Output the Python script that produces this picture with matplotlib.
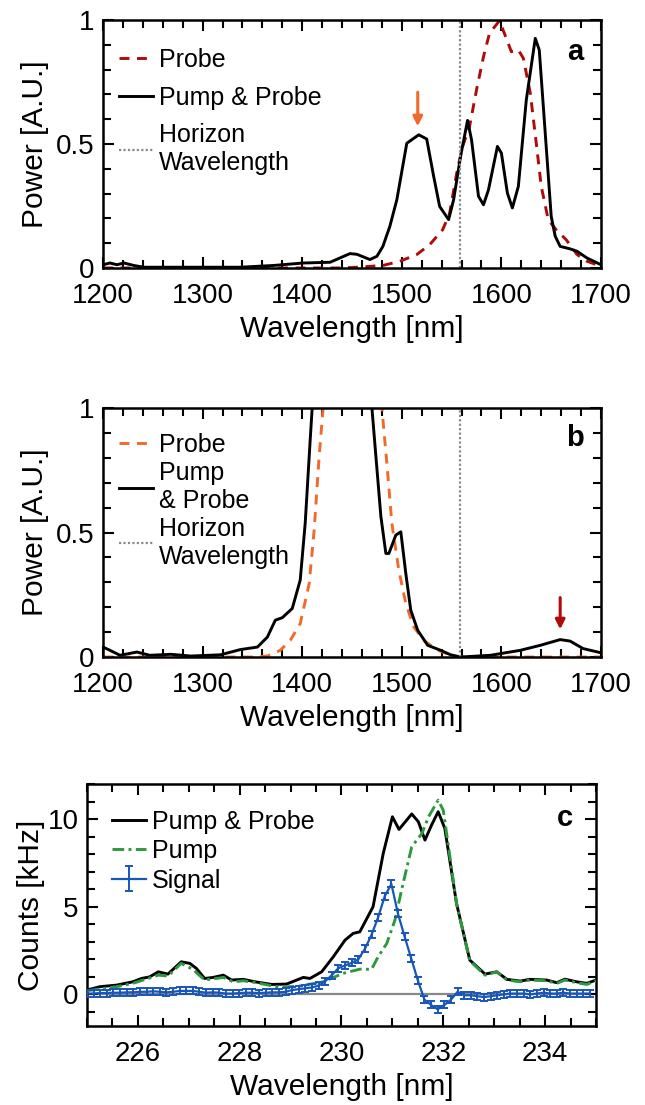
import numpy as np
import matplotlib
matplotlib.use("Agg")
import matplotlib.pyplot as plt
from matplotlib.ticker import MultipleLocator, FixedLocator

plt.rcParams['font.family'] = ['Liberation Sans', 'DejaVu Sans']

# ---------------- Panel a data ----------------
a_pp_x = [1200, 1207, 1214, 1221, 1231, 1241, 1288, 1338, 1371, 1401, 1428, 1448, 1455, 1468, 1475,
          1481, 1488, 1495, 1505, 1517, 1525, 1532, 1538, 1547, 1552, 1559, 1566, 1570, 1577, 1582,
          1587, 1596, 1600, 1606, 1611, 1617, 1625, 1634, 1638, 1644, 1650, 1654, 1659, 1669, 1676,
          1686, 1700]
a_pp_y = [0.013, 0.02, 0.013, 0.02, 0.01, 0.003, 0.003, 0.003, 0.01, 0.02, 0.023, 0.058, 0.055, 0.034, 0.047,
          0.087, 0.168, 0.275, 0.503, 0.537, 0.52, 0.369, 0.248, 0.195, 0.275, 0.45, 0.595, 0.517, 0.289, 0.255,
          0.315, 0.49, 0.463, 0.302, 0.242, 0.329, 0.678, 0.926, 0.879, 0.544, 0.208, 0.128, 0.087, 0.077, 0.067,
          0.04, 0.013]
a_pr_x = [1200, 1300, 1400, 1440, 1455, 1481, 1498, 1515, 1528, 1541, 1548, 1555, 1561, 1568, 1575,
          1582, 1588, 1598, 1603, 1610, 1617, 1622, 1629, 1635, 1640, 1647, 1655, 1665, 1676, 1686, 1700]
a_pr_y = [0.0, 0.0, 0.0, 0.0, 0.003, 0.01, 0.027, 0.054, 0.094, 0.154, 0.22, 0.38, 0.49, 0.57, 0.718,
          0.852, 0.946, 0.997, 0.946, 0.872, 0.879, 0.846, 0.705, 0.503, 0.329, 0.195, 0.154, 0.114, 0.054, 0.027, 0.007]

# ---------------- Panel b data ----------------
b_pp_x = [1200, 1207, 1217, 1234, 1247, 1268, 1288, 1318, 1338, 1355, 1365, 1373, 1380, 1390, 1398,
          1403, 1408, 1410, 1415, 1430, 1445, 1460, 1468, 1470, 1474, 1479, 1484, 1487, 1494, 1499,
          1504, 1509, 1516, 1526, 1539, 1549, 1559, 1589, 1619, 1639, 1659, 1669, 1682, 1700]
b_pp_y = [0.04, 0.027, 0.007, 0.02, 0.007, 0.011, 0.004, 0.009, 0.03, 0.04, 0.08, 0.148, 0.158, 0.195, 0.309,
          0.537, 0.872, 1.0, 2.0, 6.0, 9.0, 5.0, 1.5, 1.0, 0.805, 0.564, 0.416, 0.416, 0.49, 0.503,
          0.336, 0.188, 0.107, 0.047, 0.027, 0.009, 0.0, 0.007, 0.027, 0.047, 0.07, 0.064, 0.034, 0.017]
b_pr_x = [1200, 1300, 1350, 1365, 1378, 1388, 1398, 1407, 1412, 1417, 1421, 1430, 1450, 1470, 1480,
          1485, 1490, 1497, 1504, 1512, 1522, 1535, 1549, 1559, 1600, 1700]
b_pr_y = [0.0, 0.0, 0.0, 0.004, 0.027, 0.067, 0.134, 0.295, 0.51, 0.805, 1.0, 3.0, 8.0, 3.0, 1.0,
          0.778, 0.537, 0.349, 0.215, 0.121, 0.067, 0.03, 0.007, 0.0, 0.0, 0.0]

horizon_wl = 1558

# ---------------- Panel c data ----------------
c_pp_x = [225.0, 225.25, 225.58, 225.9, 226.07, 226.23, 226.4, 226.59, 226.85, 227.02, 227.15, 227.31,
          227.48, 227.68, 227.84, 228.07, 228.3, 228.63, 228.92, 229.25, 229.38, 229.61, 229.84, 230.07,
          230.23, 230.36, 230.62, 230.82, 231.0, 231.13, 231.38, 231.51, 231.64, 231.77, 231.9, 232.03,
          232.26, 232.52, 232.82, 233.05, 233.25, 233.51, 233.7, 234.03, 234.23, 234.39, 234.62, 234.82, 235.0]
c_pp_y = [0.25, 0.44, 0.53, 0.72, 0.91, 1.0, 1.29, 1.16, 1.86, 1.77, 1.48, 0.91,
          0.97, 1.1, 0.82, 0.86, 0.72, 0.57, 0.59, 0.97, 0.91, 1.29, 2.15, 3.1,
          3.48, 3.57, 5.0, 8.04, 10.13, 9.41, 10.29, 9.85, 8.8, 9.66, 10.42, 9.47,
          5.19, 1.96, 1.16, 1.29, 0.86, 0.76, 0.86, 0.82, 0.67, 0.87, 0.72, 0.63, 0.82]
c_pump_x = [225.0, 225.58, 225.9, 226.4, 226.59, 226.85, 227.08, 227.31, 227.68, 227.87, 228.07, 228.33,
            228.79, 229.18, 229.64, 230.03, 230.36, 230.59, 230.72, 230.89, 231.05, 231.18, 231.38, 231.58,
            231.71, 231.9, 232.0, 232.26, 232.52, 232.82, 233.05, 233.25, 233.51, 233.7, 234.03, 234.23,
            234.39, 234.62, 234.82, 235.0]
c_pump_y = [0.21, 0.44, 0.63, 1.1, 1.05, 1.77, 1.43, 0.82, 0.97, 0.72, 0.78, 0.67,
            0.4, 0.48, 0.72, 1.2, 1.44, 1.43, 2.15, 2.91, 4.24, 5.95, 8.42, 9.18,
            10.13, 11.08, 10.5, 5.19, 1.92, 1.1, 1.29, 0.82, 0.72, 0.82, 0.78, 0.63,
            0.82, 0.67, 0.57, 0.78]
c_sig_x = [225.00, 225.13, 225.26, 225.39, 225.52, 225.65, 225.78, 225.91, 226.04, 226.17, 226.30, 226.43,
           226.56, 226.69, 226.82, 226.95, 227.08, 227.21, 227.34, 227.47, 227.60, 227.73, 227.86, 227.99,
           228.12, 228.25, 228.38, 228.51, 228.64, 228.77, 228.90, 229.03, 229.16, 229.29, 229.42, 229.55,
           229.68, 229.81, 229.94, 230.07, 230.20, 230.33, 230.46, 230.59, 230.72, 230.85, 230.98, 231.11,
           231.24, 231.37, 231.50, 231.63, 231.76, 231.89, 232.02, 232.15, 232.28, 232.41, 232.54, 232.67,
           232.80, 232.93, 233.06, 233.19, 233.32, 233.45, 233.58, 233.71, 233.84, 233.97, 234.10, 234.23,
           234.36, 234.49, 234.62, 234.75, 234.88]
c_sig_y = [0.05, 0.05, 0.08, 0.08, 0.1, 0.1, 0.12, 0.12, 0.15, 0.15, 0.18, 0.15,
           0.12, 0.15, 0.2, 0.2, 0.2, 0.15, 0.1, 0.12, 0.1, 0.05, 0.05, 0.08,
           0.1, 0.1, 0.08, 0.1, 0.12, 0.12, 0.15, 0.25, 0.3, 0.35, 0.4, 0.5,
           0.75, 1.1, 1.5, 1.65, 1.8, 2.0, 2.6, 3.4, 4.4, 5.6, 6.3, 4.6,
           3.3, 2.05, 0.8, -0.3, -0.6, -0.85, -0.6, -0.3, 0.15, -0.05, -0.05, -0.1,
           -0.15, -0.1, -0.05, 0.0, 0.05, 0.05, 0.05, 0.0, 0.05, 0.1, 0.05, 0.05,
           0.1, 0.05, 0.05, 0.05, 0.05]
c_sig_err = [0.2] * len(c_sig_y)

DARKRED = '#b00a0a'
ORANGE = '#f26a2a'
GREEN = '#2b9a3c'
BLUE = '#1856b8'
FS = 20
AFS = 21.5
LFS = 18
LW = 2.1

fig = plt.figure(figsize=(6.45, 11.05), dpi=100)
axa = fig.add_axes([0.1597, 0.7575, 0.7721, 0.2244])
axb = fig.add_axes([0.1597, 0.4054, 0.7721, 0.2253])
axc = fig.add_axes([0.1349, 0.0715, 0.7891, 0.2190])


def style(ax):
    for s in ax.spines.values():
        s.set_linewidth(1.8)
    ax.tick_params(which='both', direction='in', top=True, right=True, width=1.5, labelsize=FS)
    ax.tick_params(which='major', length=8)
    ax.tick_params(which='minor', length=6)
    ax.tick_params(axis='x', which='major', pad=11)
    ax.tick_params(axis='y', which='major', pad=6)


for ax in (axa, axb):
    ax.set_xlim(1200, 1700)
    ax.set_ylim(0, 1)
    ax.xaxis.set_major_locator(MultipleLocator(100))
    ax.xaxis.set_minor_locator(MultipleLocator(20))
    ax.yaxis.set_major_locator(FixedLocator([0, 0.5, 1]))
    ax.yaxis.set_minor_locator(MultipleLocator(0.1))
    ax.set_yticklabels(['0', '0.5', '1'])
    ax.set_xlabel('Wavelength [nm]', fontsize=AFS, labelpad=4)
    ax.set_ylabel('Power [A.U.]', fontsize=AFS, labelpad=5)
    style(ax)

legkw = dict(loc='upper left', frameon=False, fontsize=LFS, handlelength=1.35,
             handletextpad=0.25, borderaxespad=0.0)

# Panel a
axa.plot(a_pr_x, a_pr_y, color=DARKRED, lw=LW, ls=(0, (3.4, 2.6)), label='Probe')
axa.plot(a_pp_x, a_pp_y, color='black', lw=LW, label='Pump & Probe')
axa.axvline(horizon_wl, color='#8a8a8a', lw=1.6, ls=(0, (1, 1)), label='Horizon\nWavelength')
axa.annotate('', xy=(1516, 0.56), xytext=(1516, 0.72),
             arrowprops=dict(arrowstyle='-|>', color=ORANGE, lw=2.2, mutation_scale=14))
axa.text(0.948, 0.87, 'a', transform=axa.transAxes, ha='center', va='center',
         fontsize=21, fontweight='bold')
axa.legend(labelspacing=0.55, bbox_to_anchor=(0.012, 0.928), **legkw)

# Panel b
axb.plot(b_pr_x, b_pr_y, color=ORANGE, lw=LW, ls=(0, (3.4, 2.6)), label='Probe')
axb.plot(b_pp_x, b_pp_y, color='black', lw=LW, label='Pump\n& Probe')
axb.axvline(horizon_wl, color='#8a8a8a', lw=1.6, ls=(0, (1, 1)), label='Horizon\nWavelength')
axb.annotate('', xy=(1659, 0.1), xytext=(1659, 0.25),
             arrowprops=dict(arrowstyle='-|>', color=DARKRED, lw=2.2, mutation_scale=14))
axb.text(0.948, 0.88, 'b', transform=axb.transAxes, ha='center', va='center',
         fontsize=21, fontweight='bold')
axb.legend(labelspacing=0.16, bbox_to_anchor=(0.012, 0.94), **legkw)

# Panel c
axc.axhline(0, color='#888888', lw=1.6, zorder=1)
axc.plot(c_pp_x, c_pp_y, color='black', lw=LW, label='Pump & Probe', zorder=3)
axc.plot(c_pump_x, c_pump_y, color=GREEN, lw=LW, ls=(0, (4, 1.5, 1, 1.5)), label='Pump', zorder=4)
axc.errorbar(c_sig_x, c_sig_y, yerr=c_sig_err, color=BLUE, lw=1.6, elinewidth=1.4,
             capsize=3, capthick=1.4, label='Signal', zorder=5)
axc.set_xlim(225, 235)
axc.set_ylim(-1.8, 12)
axc.xaxis.set_major_locator(MultipleLocator(2))
axc.xaxis.set_minor_locator(MultipleLocator(0.5))
axc.yaxis.set_major_locator(MultipleLocator(5))
axc.yaxis.set_minor_locator(MultipleLocator(1))
axc.set_xlabel('Wavelength [nm]', fontsize=AFS, labelpad=4)
axc.set_ylabel('Counts [kHz]', fontsize=AFS, labelpad=2)
style(axc)
axc.text(0.939, 0.86, 'c', transform=axc.transAxes, ha='center', va='center',
         fontsize=21, fontweight='bold')
axc.legend(labelspacing=0.22, bbox_to_anchor=(0.03, 0.935), **legkw)

fig.savefig('out.png', dpi=100)
